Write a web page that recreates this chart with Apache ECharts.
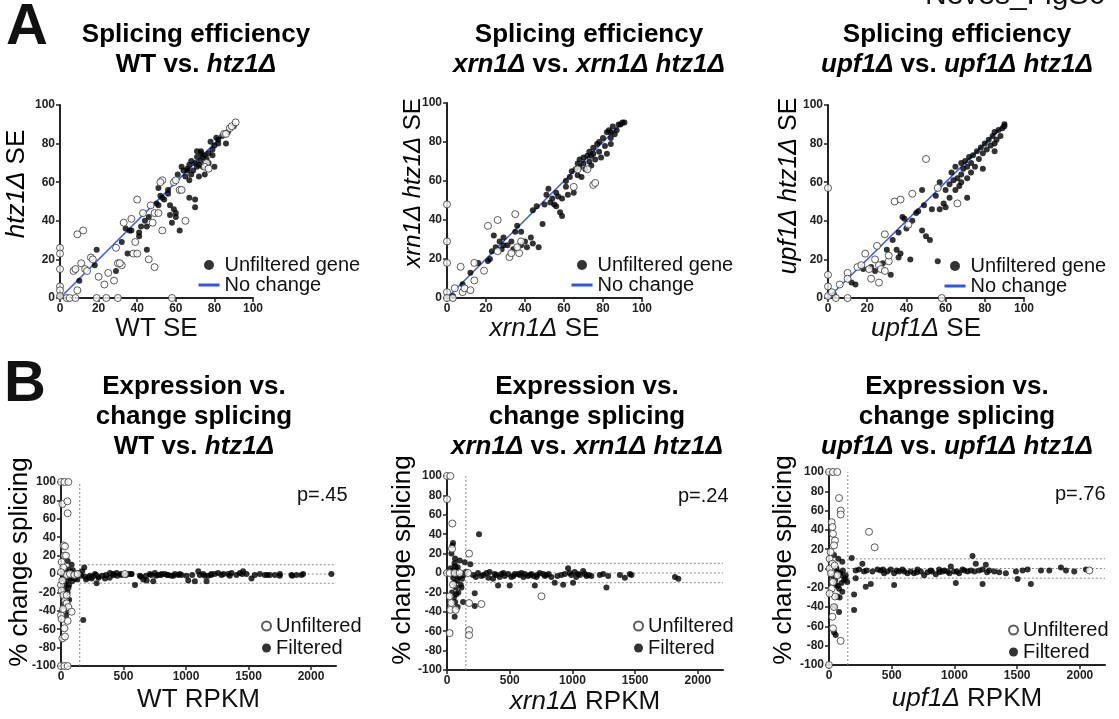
<!DOCTYPE html>
<html>
<head>
<meta charset="utf-8">
<script src="https://cdn.jsdelivr.net/npm/echarts@6/dist/echarts.min.js"></script>
<style>
html,body{margin:0;padding:0;background:#fff;}
#main{width:1119px;height:719px;}
</style>
</head>
<body>
<div id="main"></div>
<script>
// tick values
var seTicks = [0, 20, 40, 60, 80, 100];
var pctTicks = [-100, -80, -60, -40, -20, 0, 20, 40, 60, 80, 100];
var rpkmTicks = [0, 500, 1000, 1500, 2000];
var rpkmMax = 2200;
var rpkmCut = 150;
var bandLevels = [10, 0, -10];
var noChange = [[0, 0], [91, 91]];
var pValues = ['p=.45', 'p=.24', 'p=.76'];

// A: splicing efficiency, [control SE, htz1 SE]
var a1Open = [[0,26],[0,23],[0,15],[0,6],[0,4],[0,1],[3.5,0],[5,0],[8,0],[19,0],[24,0],[30,0],[58,0],
  [9,33],[12,35],[11,18],[7,14],[8,15],[13,15],[14,14],[16,21],[17,20],[9,4],[20,11],[23,7],[25,13],[28,9],
  [29,26],[30,18],[32,17],[31,18],[38,23],[40,23],[39,29],[46,20],[49,16],[53,35],[33,39],[37,41],[40,51],
  [43,44],[47,48],[49,44],[48,39],[51,44],[53,61],[52,60],[59,60],[60,61],[62,56],[63,56],[65,40],[76,70],
  [75,68],[77,67],[85,85],[86,85],[88,88],[89,89],[91,91]];
var a1Filled = [[0,1],[10,9],[19,25],[18,17],[29,14],[32,29],[34,36],[36,35],[37,35],[35,23],[41,34],[41,32],
  [42,37],[44,40],[45,25],[46,42],[45,37],[50,49],[51,57],[51,48],[52,53],[53,52],[54,51],[56,56],[56,54],
  [57,48],[57,43],[58,39],[59,46],[60,44],[60,42],[62,35],[61,64],[63,68],[64,66],[65,63],[66,67],[66,66],
  [67,61],[67,52],[67,69],[68,64],[68,71],[69,66],[70,51],[70,70],[70,47],[71,73],[71,68],[72,63],[72,69],
  [73,75],[73,71],[74,68],[74,73],[75,64],[75,74],[76,72],[77,75],[77,70],[78,81],[79,77],[79,74],[80,79],
  [80,68],[81,83],[82,80],[86,80],[87,86],[90,89],[82,82],[84,84],[73,76],[71,76]];

var a2Open = [[0,48],[0,29],[0,18],[0,3],[0,0],[3,0],[7,16],[4,5],[8,3],[9,5],[12,4],[14,9],[14,18],[19,14],
  [21,37],[26,40],[26,24],[32,21],[33,23],[35,43],[37,23],[38,29],[36,26],[67,66],[72,66],[75,58],[76,59],[65,57]];
var a2Filled = [[3,1],[8,7],[12,13],[16,18],[21,19],[23,24],[22,20],[25,26],[24,32],[27,29],[29,31],[29,27],
  [28,25],[31,27],[33,29],[34,25],[35,34],[36,37],[38,34],[38,27],[40,29],[41,26],[43,31],[44,28],[47,26],
  [44,45],[46,47],[49,38],[50,48],[51,53],[52,56],[53,49],[54,51],[55,48],[56,47],[56,54],[57,52],[58,44],
  [59,42],[59,51],[61,57],[61,60],[62,53],[63,62],[64,65],[65,54],[66,66],[67,63],[67,69],[68,67],[68,71],
  [69,62],[70,69],[70,72],[71,66],[72,73],[73,70],[73,75],[74,73],[74,68],[75,77],[75,74],[76,71],[77,79],
  [78,75],[78,80],[79,72],[80,82],[81,78],[82,85],[82,74],[83,86],[84,82],[84,85],[85,88],[86,84],[87,86],
  [88,89],[89,89],[90,90],[91,90],[84,79]];

var a3Open = [[0,57],[0,12],[0,6],[0,1],[4,0],[10,0],[58,0],[6,7],[2,3],[10,13],[10,10],[15,16],[17,17],
  [19,23],[21,15],[22,10],[24,20],[25,27],[26,17],[26,8],[27,15],[29,14],[29,33],[31,19],[34,50],[37,51],
  [41,38],[43,54],[50,72],[56,57],[66,49],[31,22]];
var a3Filled = [[3,2],[12,8],[14,7],[18,15],[22,16],[24,14],[32,12],[28,18],[30,25],[33,30],[35,25],[36,21],
  [37,23],[36,34],[38,42],[39,41],[40,36],[42,20],[43,40],[45,44],[46,45],[48,56],[48,35],[49,48],[50,32],
  [52,30],[53,46],[56,19],[55,53],[57,60],[57,46],[59,49],[60,56],[60,47],[62,52],[62,59],[63,65],[64,61],
  [65,56],[65,68],[66,62],[67,58],[68,70],[68,64],[68,60],[69,67],[70,71],[71,62],[71,52],[71,68],[72,73],
  [73,65],[73,70],[74,74],[75,68],[76,76],[77,72],[78,78],[79,75],[79,67],[80,80],[81,77],[82,82],[83,79],
  [84,84],[85,76],[85,86],[86,82],[87,87],[88,84],[89,88],[90,90],[90,89],[85,80]];

// B: expression vs change splicing, [RPKM, % change]
var b1Open = [[0,100],[27,100],[59,100],[0,-100],[27,-100],[53,-100],[11,76],[51,79],[53,66],[19,31],[32,30],
  [27,20],[40,20],[5,13],[19,7],[45,-1],[72,0],[107,-1],[133,0],[511,0],[0,-12],[5,-18],[19,-23],[32,-29],
  [45,-32],[59,-36],[85,-41],[53,-51],[27,-59],[11,-70],[32,-68],[0,-45],[5,-49],[16,-38],[45,-23],[11,-7],[0,2]];
var b1Filled = [[53,14],[85,10],[72,-5],[64,-12],[53,-20],[32,-11],[27,-30],[40,-25],[50,-30],[30,-35],[60,-15],
  [45,-8],[70,-3],[80,2],[60,5],[186,7],[178,-50],[152,0],[20,-5],[35,3],[25,-15],[15,-2],[90,-8],[100,-3],
  [110,-5],[120,-2],[130,-6],[140,1],[95,4],[55,-40],[40,-45],[65,-28],[35,-20],
  [192,-3],[218,-4],[232,-2],[245,-5],[272,0],[285,-10],[298,-3],[352,-5],[392,1],[418,0],[445,1],[485,-1],
  [538,0],[565,0],[592,-12],[631,-2],[658,-6],[685,-7],[711,0],[738,-8],[751,1],[778,-1],[805,0],[831,0],
  [858,-1],[884,-2],[911,0],[938,-1],[964,-1],[1004,-2],[1018,-7],[1071,-8],[1098,3],[1111,-1],[1138,0],
  [1164,-8],[1177,-2],[1204,0],[1231,0],[1257,1],[1284,-1],[1337,0],[1364,1],[1404,-1],[1431,1],[1457,3],
  [1484,0],[1524,-5],[1591,0],[1631,-1],[1671,-1],[1711,-1],[1751,0],[1844,-1],[1884,-1],[1924,-1],[1937,0],
  [2163,0],[160,-2],[170,3],[200,-6],[250,-3],[280,-1],[300,-4],[330,-2],[360,-1],[390,-4],[420,-1],[450,-2],
  [480,0],[520,-1],[560,0],[640,-3],[680,-2],[720,-1],[760,-2],[800,-1],[850,-1],[900,-2],[950,0],[1050,-1],
  [1150,-2],[1200,-1],[1300,0],[1350,-2],[1450,0],[1550,-1],[1650,-1],[1750,-2],[1850,-2]];

var b2Open = [[0,100],[27,100],[0,76],[43,51],[40,25],[176,20],[0,0],[21,0],[61,0],[101,0],[168,0],[48,-12],
  [21,-24],[35,-31],[27,-38],[69,-38],[21,-62],[176,-31],[274,-32],[753,-24],[176,-59],[176,-64]];
var b2Filled = [[255,40],[48,31],[43,28],[35,20],[64,15],[101,13],[141,11],[186,9],[64,7],[50,-5],[60,-10],
  [70,-15],[80,-8],[90,-20],[100,-3],[110,-12],[120,-6],[40,-20],[55,-25],[65,-30],[75,-22],[85,-35],[61,-45],
  [128,-30],[221,-34],[221,-21],[30,5],[45,2],[55,-2],[75,3],[95,-4],[130,-2],[150,1],[85,6],[60,10],[115,-15],
  [207,-2],[247,0],[274,-3],[314,0],[340,1],[367,-6],[394,-2],[407,-13],[434,-1],[460,-3],[487,-1],[500,-13],
  [513,-4],[540,-1],[567,-1],[593,0],[620,-1],[646,-3],[673,-1],[700,-13],[713,-4],[739,0],[766,-1],[793,-2],
  [832,-4],[859,-10],[912,-2],[926,-12],[965,5],[978,0],[1005,-10],[1018,1],[1045,-1],[1085,2],[1112,-3],
  [1151,-3],[1218,-2],[1245,-1],[1271,-15],[1285,-3],[1378,-2],[1418,-5],[1458,-1],[1471,-2],[1817,-4],[1844,-6],
  [230,-4],[290,-2],[330,-5],[380,-1],[420,-4],[450,0],[530,-3],[580,-2],[610,-4],[660,-2],[690,-3],[720,-2],
  [780,-3],[810,-1],[880,-3],[940,-1],[990,-2],[1030,-4],[1060,-2],[1100,-1],[1130,-2]];

var b3Open = [[0,100],[32,100],[66,100],[80,73],[93,60],[93,56],[21,48],[27,43],[32,36],[48,29],[40,24],[13,17],
  [5,10],[27,5],[5,0],[319,38],[364,22],[2075,-2],[32,-14],[21,-21],[48,-29],[40,-40],[27,-50],[32,-62],[5,-26],
  [93,-75],[0,-100],[66,-7],[15,-5],[45,3]];
var b3Filled = [[181,11],[40,14],[74,10],[106,7],[66,-3],[93,-7],[120,-12],[146,-14],[53,-17],[80,-21],[106,-24],
  [66,-29],[80,-45],[40,-66],[53,-69],[133,-7],[200,-27],[200,-43],[213,-10],[266,5],[293,-19],[333,-16],[519,-17],
  [1011,-15],[1224,-16],[1609,-16],[1503,-11],[1144,13],[30,-8],[50,-12],[70,-18],[90,-5],[110,-2],[130,-10],
  [60,0],[100,-15],[85,-30],[45,-40],
  [213,-2],[239,-1],[279,-3],[346,-3],[386,-1],[412,-2],[439,-5],[466,-3],[492,-1],[519,-5],[559,-3],[585,-1],
  [625,-5],[652,-3],[678,-5],[705,-1],[732,-3],[758,-7],[785,-4],[811,-2],[851,-6],[878,-1],[904,-3],[944,-3],
  [971,2],[997,-3],[1037,-5],[1064,-1],[1104,-3],[1130,-2],[1170,5],[1197,-2],[1224,-1],[1250,4],[1277,-2],
  [1317,-3],[1357,-4],[1410,-5],[1490,-3],[1543,-2],[1583,-1],[1690,-2],[1756,-2],[1849,1],[1889,-2],[1955,-3],
  [2048,-1],[300,-2],[430,-1],[540,-2],[600,-3],[700,-4],[820,-3],[880,-4],[920,-2],[960,-5],[1020,-3],
  [1080,-2],[1160,-3],[1260,-4]];

var FONT = '"Liberation Sans", Arial, Helvetica, sans-serif';
var chart = echarts.init(document.getElementById('main'));

var grids = [
  {left: 60, top: 105, width: 193, height: 193},
  {left: 447, top: 103, width: 195, height: 195},
  {left: 828, top: 105, width: 196, height: 193},
  {left: 61, top: 482, width: 275, height: 184},
  {left: 447, top: 476, width: 276, height: 194},
  {left: 829, top: 472, width: 276, height: 193}
];

function rich(size) {
  return {
    r: {fontSize: size, fontFamily: FONT, color: '#111'},
    i: {fontSize: size, fontFamily: FONT, fontStyle: 'italic', color: '#111'}
  };
}

function makeAxis(gi, min, max, ticks, step, name, gap) {
  return {
    type: 'value', gridIndex: gi, min: min, max: max, interval: step,
    splitLine: {show: false},
    axisLine: {onZero: false, lineStyle: {color: '#222', width: 2}},
    axisTick: {length: 4, lineStyle: {color: '#222', width: 1.5}, customValues: ticks},
    axisLabel: {customValues: ticks, fontSize: 12, fontWeight: 'bold', color: '#222', fontFamily: FONT, margin: 5,
      formatter: function (v) { return String(v); }},
    name: name || '', nameLocation: 'middle', nameGap: gap || 20,
    nameTextStyle: {rich: rich(26)}
  };
}

var xAxes = [
  makeAxis(0, 0, 100, seTicks, 20, '{r|WT SE}', 10),
  makeAxis(1, 0, 100, seTicks, 20, '{i|xrn1Δ}{r| SE}', 10),
  makeAxis(2, 0, 100, seTicks, 20, '{i|upf1Δ}{r| SE}', 10),
  makeAxis(3, 0, rpkmMax, rpkmTicks, 500, '{r|WT RPKM}', 21),
  makeAxis(4, 0, rpkmMax, rpkmTicks, 500, '{i|xrn1Δ}{r| RPKM}', 19),
  makeAxis(5, 0, rpkmMax, rpkmTicks, 500, '{i|upf1Δ}{r| RPKM}', 21)
];
var yAxes = [
  makeAxis(0, 0, 100, seTicks, 20), makeAxis(1, 0, 100, seTicks, 20), makeAxis(2, 0, 100, seTicks, 20),
  makeAxis(3, -100, 100, pctTicks, 20), makeAxis(4, -100, 100, pctTicks, 20), makeAxis(5, -100, 100, pctTicks, 20)
];

var series = [];
function filled(i, name, data, size) {
  series.push({type: 'scatter', name: name, xAxisIndex: i, yAxisIndex: i, data: data, symbolSize: size,
    itemStyle: {color: '#000'}, z: 3, silent: true});
}
function open(i, name, data) {
  series.push({type: 'scatter', name: name, xAxisIndex: i, yAxisIndex: i, data: data, symbolSize: 7,
    itemStyle: {color: '#fff', borderColor: '#333', borderWidth: 1}, z: 4, silent: true});
}
function refLine(i, data) {
  series.push({type: 'line', xAxisIndex: i, yAxisIndex: i, data: data, symbol: 'none', silent: true, z: 1,
    lineStyle: {color: '#888', width: 1, type: [2, 2]}});
}

var aSets = [[a1Filled, a1Open], [a2Filled, a2Open], [a3Filled, a3Open]];
aSets.forEach(function (s, i) {
  series.push({type: 'line', name: 'No change', xAxisIndex: i, yAxisIndex: i, data: noChange, symbol: 'none',
    silent: true, z: 2, lineStyle: {color: '#3a5cf2', width: 1.5}});
  filled(i, 'Unfiltered gene', s[0], 6);
  open(i, 'Filtered gene', s[1]);
});

var bSets = [[b1Filled, b1Open], [b2Filled, b2Open], [b3Filled, b3Open]];
bSets.forEach(function (s, k) {
  var i = k + 3;
  refLine(i, [[rpkmCut, -100], [rpkmCut, 100]]);
  bandLevels.forEach(function (lv) { refLine(i, [[rpkmCut, lv], [rpkmMax, lv]]); });
  filled(i, 'Filtered', s[0], 6);
  open(i, 'Unfiltered', s[1]);
});

function legendA(left, top) {
  return {orient: 'vertical', left: left, top: top, padding: 0, itemGap: 0, itemWidth: 21, itemHeight: 10,
    selectedMode: false,
    data: [{name: 'Unfiltered gene', icon: 'circle'},
      {name: 'No change', itemStyle: {opacity: 0}, lineStyle: {width: 3, color: '#2f55f0'}}],
    textStyle: {fontSize: 20, color: '#111', fontFamily: FONT, lineHeight: 19}};
}
function legendB(left, top) {
  return {orient: 'vertical', left: left, top: top, padding: 0, itemGap: 0, itemWidth: 9, itemHeight: 9,
    selectedMode: false, data: ['Unfiltered', 'Filtered'],
    textStyle: {fontSize: 20, color: '#111', fontFamily: FONT, lineHeight: 22}};
}

var titleRich = {
  b: {fontSize: 26, fontWeight: 'bold', fontFamily: FONT, color: '#111', lineHeight: 30},
  bi: {fontSize: 26, fontWeight: 'bold', fontStyle: 'italic', fontFamily: FONT, color: '#111', lineHeight: 30}
};
function titleText(x, y, text) {
  return {type: 'text', x: x, y: y, silent: true,
    style: {text: text, rich: titleRich, align: 'center', verticalAlign: 'top'}};
}
function yName(x, y, text, size) {
  return {type: 'text', x: x, y: y, rotation: Math.PI / 2, silent: true,
    style: {text: text, rich: rich(size), align: 'center', verticalAlign: 'middle'}};
}
function plain(x, y, text, size, weight, align) {
  return {type: 'text', x: x, y: y, silent: true,
    style: {text: text, fontSize: size, fontWeight: weight, fontFamily: FONT, fill: '#111',
      align: align || 'left', verticalAlign: 'middle'}};
}

var graphics = [
  plain(925, -4, 'Neves_FigS6', 30, 'normal'),
  plain(6, 28, 'A', 58, 'bold'),
  plain(4, 385, 'B', 58, 'bold'),
  titleText(196, 20, '{b|Splicing efficiency}\n{b|WT vs. }{bi|htz1Δ}'),
  titleText(589, 20, '{b|Splicing efficiency}\n{bi|xrn1Δ}{b| vs. }{bi|xrn1Δ htz1Δ}'),
  titleText(957, 20, '{b|Splicing efficiency}\n{bi|upf1Δ}{b| vs. }{bi|upf1Δ htz1Δ}'),
  titleText(194, 372, '{b|Expression vs.}\n{b|change splicing}\n{b|WT vs. }{bi|htz1Δ}'),
  titleText(587, 372, '{b|Expression vs.}\n{b|change splicing}\n{bi|xrn1Δ}{b| vs. }{bi|xrn1Δ htz1Δ}'),
  titleText(957, 372, '{b|Expression vs.}\n{b|change splicing}\n{bi|upf1Δ}{b| vs. }{bi|upf1Δ htz1Δ}'),
  yName(17, 184, '{i|htz1Δ}{r| SE}', 26),
  yName(413, 183, '{i|xrn1Δ htz1Δ}{r| SE}', 24),
  yName(789, 186, '{i|upf1Δ htz1Δ}{r| SE}', 25),
  yName(20, 562, '{r|% change splicing}', 26),
  yName(403, 560, '{r|% change splicing}', 26),
  yName(784, 560, '{r|% change splicing}', 26),
  plain(297, 495, pValues[0], 20, 'normal'),
  plain(678, 496, pValues[1], 20, 'normal'),
  plain(1055, 494, pValues[2], 20, 'normal')
];

chart.setOption({
  animation: false,
  backgroundColor: '#fff',
  textStyle: {fontFamily: FONT},
  grid: grids,
  xAxis: xAxes,
  yAxis: yAxes,
  legend: [legendA(197, 255), legendA(570, 255), legendA(943, 256),
    legendB(261, 615), legendB(633, 615), legendB(1008, 619)],
  series: series,
  graphic: graphics
});
</script>
</body>
</html>
